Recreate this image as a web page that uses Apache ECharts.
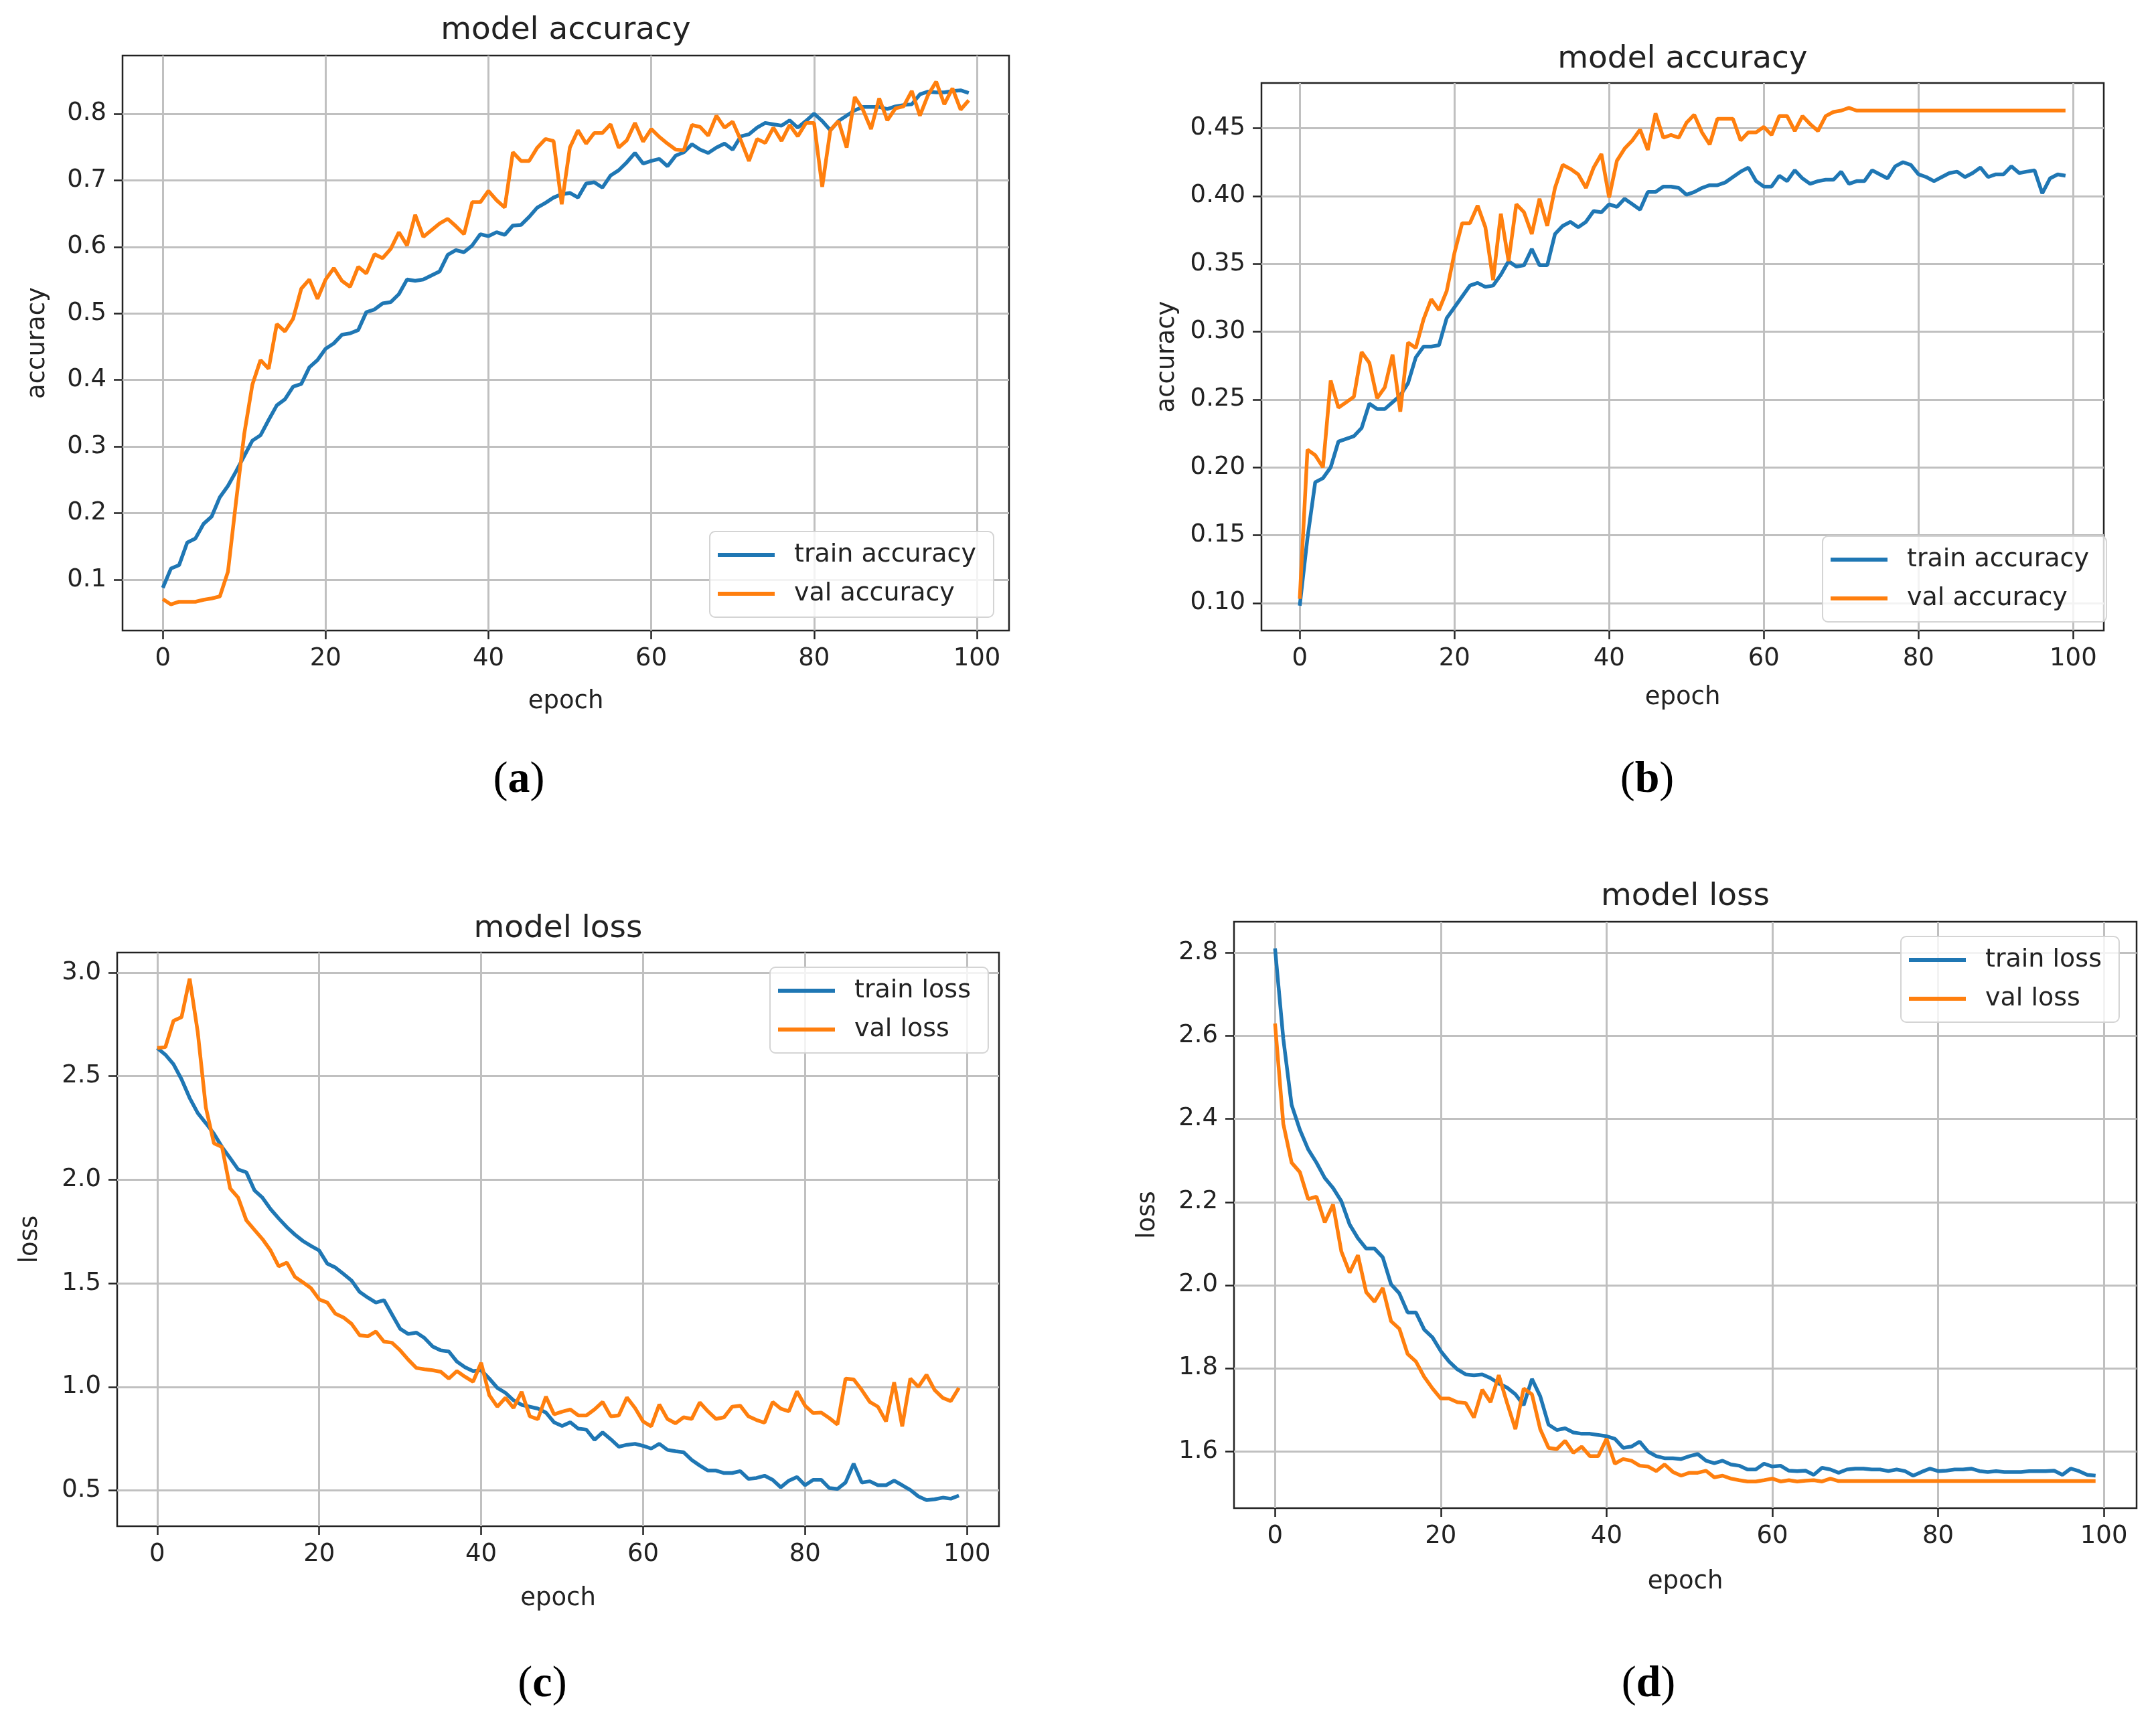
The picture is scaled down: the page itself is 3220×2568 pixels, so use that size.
<!DOCTYPE html>
<html>
<head>
<meta charset="utf-8">
<title>model accuracy / model loss</title>
<script src="https://cdn.jsdelivr.net/npm/echarts@6/dist/echarts.min.js"></script>
<style>
  html, body { margin: 0; padding: 0; background: #ffffff; }
  #chart { width: 3220px; height: 2568px; }
</style>
</head>
<body>
<div id="chart"></div>
<script>
// epochs 0..99 on the x axis
const epochs = Array.from({ length: 100 }, (_, i) => i);
const xTicks = [0, 20, 40, 60, 80, 100];

// (a) accuracy
const aTrain = [
  0.088, 0.117, 0.122, 0.156, 0.162, 0.184, 0.195, 0.224, 0.241, 0.263,
  0.286, 0.309, 0.317, 0.340, 0.362, 0.371, 0.390, 0.394, 0.419, 0.430,
  0.447, 0.455, 0.468, 0.470, 0.475, 0.502, 0.506, 0.515, 0.517, 0.529,
  0.551, 0.549, 0.551, 0.557, 0.563, 0.588, 0.595, 0.592, 0.602, 0.619,
  0.616, 0.622, 0.618, 0.632, 0.633, 0.645, 0.659, 0.666, 0.674, 0.679,
  0.681, 0.674, 0.695, 0.697, 0.689, 0.707, 0.715, 0.727, 0.741, 0.725,
  0.729, 0.732, 0.721, 0.737, 0.742, 0.754, 0.746, 0.741, 0.749, 0.755,
  0.746, 0.766, 0.769, 0.779, 0.786, 0.784, 0.782, 0.790, 0.779, 0.789,
  0.800, 0.789, 0.775, 0.789, 0.797, 0.805, 0.810, 0.810, 0.810, 0.807,
  0.811, 0.813, 0.814, 0.829, 0.833, 0.832, 0.832, 0.834, 0.835, 0.831
];
const aVal = [
  0.071, 0.063, 0.067, 0.067, 0.067, 0.070, 0.072, 0.075, 0.112, 0.218,
  0.319, 0.393, 0.430, 0.417, 0.484, 0.473, 0.492, 0.537, 0.551, 0.522,
  0.551, 0.568, 0.549, 0.540, 0.570, 0.560, 0.589, 0.583, 0.597, 0.622,
  0.602, 0.648, 0.615, 0.625, 0.635, 0.642, 0.631, 0.619, 0.667, 0.667,
  0.684, 0.670, 0.659, 0.742, 0.729, 0.729, 0.749, 0.762, 0.759, 0.664,
  0.749, 0.775, 0.755, 0.771, 0.771, 0.784, 0.749, 0.760, 0.786, 0.758,
  0.777, 0.765, 0.755, 0.746, 0.745, 0.783, 0.780, 0.767, 0.797, 0.779,
  0.788, 0.760, 0.729, 0.762, 0.756, 0.779, 0.759, 0.783, 0.766, 0.786,
  0.786, 0.690, 0.775, 0.789, 0.749, 0.825, 0.806, 0.777, 0.823, 0.790,
  0.808, 0.811, 0.834, 0.797, 0.828, 0.848, 0.814, 0.838, 0.806, 0.820
];
const aTicks = [0.1, 0.2, 0.3, 0.4, 0.5, 0.6, 0.7, 0.8];

// (b) accuracy
const bTrain = [
  0.098, 0.148, 0.189, 0.192, 0.200, 0.219, 0.221, 0.223, 0.229, 0.247,
  0.243, 0.243, 0.248, 0.253, 0.262, 0.281, 0.289, 0.289, 0.290, 0.310,
  0.318, 0.326, 0.334, 0.336, 0.333, 0.334, 0.342, 0.352, 0.348, 0.349,
  0.361, 0.349, 0.349, 0.372, 0.378, 0.381, 0.377, 0.381, 0.389, 0.388,
  0.394, 0.392, 0.398, 0.394, 0.390, 0.403, 0.403, 0.407, 0.407, 0.406,
  0.401, 0.403, 0.406, 0.408, 0.408, 0.410, 0.414, 0.418, 0.421, 0.411,
  0.407, 0.407, 0.415, 0.411, 0.419, 0.413, 0.409, 0.411, 0.412, 0.412,
  0.418, 0.409, 0.411, 0.411, 0.419, 0.416, 0.413, 0.422, 0.425, 0.423,
  0.416, 0.414, 0.411, 0.414, 0.417, 0.418, 0.414, 0.417, 0.421, 0.414,
  0.416, 0.416, 0.422, 0.417, 0.418, 0.419, 0.402, 0.413, 0.416, 0.415
];
const bVal = [
  0.103, 0.213, 0.209, 0.200, 0.264, 0.244, 0.248, 0.252, 0.285, 0.277,
  0.251, 0.259, 0.283, 0.241, 0.292, 0.288, 0.309, 0.324, 0.316, 0.330,
  0.358, 0.380, 0.380, 0.393, 0.377, 0.338, 0.387, 0.352, 0.394, 0.388,
  0.372, 0.398, 0.378, 0.406, 0.423, 0.420, 0.416, 0.406, 0.421, 0.431,
  0.399, 0.426, 0.435, 0.441, 0.449, 0.434, 0.461, 0.443, 0.445, 0.443,
  0.454, 0.460, 0.447, 0.438, 0.457, 0.457, 0.457, 0.441, 0.447, 0.447,
  0.451, 0.445, 0.459, 0.459, 0.448, 0.459, 0.453, 0.448, 0.459, 0.462,
  0.463, 0.465, 0.463, 0.463, 0.463, 0.463, 0.463, 0.463, 0.463, 0.463,
  0.463, 0.463, 0.463, 0.463, 0.463, 0.463, 0.463, 0.463, 0.463, 0.463,
  0.463, 0.463, 0.463, 0.463, 0.463, 0.463, 0.463, 0.463, 0.463, 0.463
];
const bTicks = [0.10, 0.15, 0.20, 0.25, 0.30, 0.35, 0.40, 0.45];

// (c) loss
const cTrain = [
  2.636, 2.604, 2.558, 2.485, 2.395, 2.322, 2.273, 2.222, 2.158, 2.104,
  2.049, 2.036, 1.949, 1.913, 1.858, 1.813, 1.771, 1.735, 1.704, 1.680,
  1.658, 1.595, 1.576, 1.545, 1.513, 1.458, 1.431, 1.407, 1.418, 1.349,
  1.280, 1.255, 1.262, 1.236, 1.195, 1.176, 1.171, 1.122, 1.095, 1.076,
  1.080, 1.040, 0.995, 0.971, 0.935, 0.913, 0.904, 0.895, 0.876, 0.829,
  0.811, 0.829, 0.798, 0.793, 0.744, 0.780, 0.747, 0.711, 0.720, 0.725,
  0.715, 0.702, 0.725, 0.696, 0.689, 0.684, 0.647, 0.620, 0.596, 0.596,
  0.584, 0.584, 0.593, 0.556, 0.560, 0.571, 0.551, 0.515, 0.547, 0.565,
  0.525, 0.551, 0.551, 0.511, 0.507, 0.538, 0.629, 0.538, 0.544, 0.525,
  0.525, 0.547, 0.525, 0.502, 0.471, 0.453, 0.457, 0.465, 0.460, 0.475
];
const cVal = [
  2.636, 2.640, 2.767, 2.785, 2.971, 2.713, 2.349, 2.176, 2.158, 1.958,
  1.913, 1.804, 1.758, 1.713, 1.658, 1.582, 1.600, 1.531, 1.504, 1.476,
  1.422, 1.407, 1.353, 1.335, 1.304, 1.249, 1.244, 1.267, 1.218, 1.213,
  1.176, 1.131, 1.091, 1.085, 1.080, 1.073, 1.040, 1.076, 1.049, 1.025,
  1.116, 0.960, 0.904, 0.947, 0.898, 0.976, 0.858, 0.844, 0.953, 0.867,
  0.880, 0.891, 0.862, 0.862, 0.891, 0.927, 0.858, 0.862, 0.949, 0.898,
  0.833, 0.809, 0.915, 0.845, 0.824, 0.853, 0.845, 0.925, 0.882, 0.845,
  0.853, 0.904, 0.909, 0.858, 0.840, 0.827, 0.927, 0.895, 0.882, 0.978,
  0.909, 0.873, 0.876, 0.849, 0.818, 1.040, 1.036, 0.985, 0.927, 0.904,
  0.833, 1.022, 0.809, 1.040, 1.000, 1.058, 0.985, 0.947, 0.931, 0.995
];
const cTicks = [0.5, 1.0, 1.5, 2.0, 2.5, 3.0];

// (d) loss
const dTrain = [
  2.811, 2.593, 2.434, 2.374, 2.327, 2.295, 2.258, 2.234, 2.202, 2.146,
  2.113, 2.088, 2.088, 2.067, 2.002, 1.980, 1.934, 1.934, 1.893, 1.874,
  1.841, 1.816, 1.797, 1.785, 1.783, 1.785, 1.776, 1.763, 1.753, 1.737,
  1.711, 1.774, 1.732, 1.664, 1.651, 1.655, 1.645, 1.642, 1.642, 1.639,
  1.636, 1.630, 1.608, 1.611, 1.623, 1.599, 1.588, 1.583, 1.583, 1.581,
  1.588, 1.593, 1.577, 1.571, 1.577, 1.568, 1.565, 1.556, 1.556, 1.570,
  1.563, 1.565, 1.553, 1.552, 1.553, 1.543, 1.560, 1.556, 1.548, 1.556,
  1.558, 1.558, 1.556, 1.556, 1.552, 1.556, 1.552, 1.541, 1.550, 1.558,
  1.552, 1.553, 1.556, 1.556, 1.558, 1.552, 1.550, 1.552, 1.550, 1.550,
  1.550, 1.552, 1.552, 1.552, 1.553, 1.543, 1.558, 1.552, 1.543, 1.541
];
const dVal = [
  2.630, 2.388, 2.295, 2.272, 2.207, 2.213, 2.151, 2.194, 2.081, 2.030,
  2.072, 1.983, 1.960, 1.993, 1.913, 1.895, 1.834, 1.816, 1.779, 1.751,
  1.727, 1.727, 1.718, 1.716, 1.681, 1.748, 1.718, 1.783, 1.716, 1.653,
  1.751, 1.737, 1.653, 1.608, 1.605, 1.625, 1.596, 1.611, 1.588, 1.588,
  1.630, 1.570, 1.581, 1.577, 1.565, 1.563, 1.552, 1.568, 1.550, 1.541,
  1.548, 1.548, 1.553, 1.537, 1.541, 1.534, 1.530, 1.527, 1.527, 1.530,
  1.534, 1.527, 1.530, 1.527, 1.529, 1.530, 1.527, 1.534, 1.528, 1.528,
  1.528, 1.528, 1.528, 1.528, 1.528, 1.528, 1.528, 1.528, 1.528, 1.528,
  1.528, 1.528, 1.528, 1.528, 1.528, 1.528, 1.528, 1.528, 1.528, 1.528,
  1.528, 1.528, 1.528, 1.528, 1.528, 1.528, 1.528, 1.528, 1.528, 1.528
];
const dTicks = [1.6, 1.8, 2.0, 2.2, 2.4, 2.6, 2.8];

const panels = [
  { tag: 'a', title: 'model accuracy', yName: 'accuracy', train: aTrain, val: aVal, ticks: aTicks, digits: 1,
    names: ['train accuracy', 'val accuracy'] },
  { tag: 'b', title: 'model accuracy', yName: 'accuracy', train: bTrain, val: bVal, ticks: bTicks, digits: 2,
    names: ['train accuracy', 'val accuracy'] },
  { tag: 'c', title: 'model loss', yName: 'loss', train: cTrain, val: cVal, ticks: cTicks, digits: 1,
    names: ['train loss', 'val loss'] },
  { tag: 'd', title: 'model loss', yName: 'loss', train: dTrain, val: dVal, ticks: dTicks, digits: 1,
    names: ['train loss', 'val loss'] }
];

// pixel layout of each panel: plot box [x0, y0, x1, y1], title y, gaps, legend corner, tag centre
const layout = [
  { box: [183, 83, 1507, 942], titleY: 46, yGap: 108, xGap: 88, legend: [1060, 794], tagAt: [775, 1166] },
  { box: [1884, 124, 3142, 942], titleY: 89, yGap: 122, xGap: 82, legend: [2722, 801], tagAt: [2460, 1166] },
  { box: [175, 1423, 1492, 2280], titleY: 1388, yGap: 111, xGap: 90, legend: [1150, 1445], tagAt: [810, 2517] },
  { box: [1843, 1377, 3191, 2253], titleY: 1340, yGap: 110, xGap: 92, legend: [2839, 1399], tagAt: [2462, 2517] }
];

const BLUE = '#1f77b4';
const ORANGE = '#ff7f0e';
const INK = '#222222';
const FONT = '"DejaVu Sans", sans-serif';

const grid = [], xAxis = [], yAxis = [], series = [], legend = [], graphic = [];

panels.forEach((p, i) => {
  const L = layout[i];
  const [x0, y0, x1, y1] = L.box;
  grid.push({
    left: x0, top: y0, width: x1 - x0, height: y1 - y0,
    show: true, borderColor: INK, borderWidth: 2.5, backgroundColor: 'transparent'
  });

  // matplotlib style 5% margins
  const all = p.train.concat(p.val);
  const lo = Math.min(...all), hi = Math.max(...all);
  const pad = (hi - lo) * 0.05;

  xAxis.push({
    type: 'value', gridIndex: i, min: -4.95, max: 103.95,
    name: 'epoch', nameLocation: 'middle', nameGap: L.xGap,
    nameTextStyle: { fontSize: 37, color: INK, fontFamily: FONT },
    axisLine: { show: false, onZero: false },
    axisTick: { show: true, length: 13, inside: false, customValues: xTicks,
      lineStyle: { color: INK, width: 2.5 } },
    axisLabel: { customValues: xTicks, margin: 24, fontSize: 37, color: INK, fontFamily: FONT },
    splitLine: { show: true, lineStyle: { color: '#c0c0c0', width: 3 } }
  });

  yAxis.push({
    type: 'value', gridIndex: i, min: lo - pad, max: hi + pad,
    name: p.yName, nameLocation: 'middle', nameGap: L.yGap,
    nameTextStyle: { fontSize: 37, color: INK, fontFamily: FONT },
    axisLine: { show: false, onZero: false },
    axisTick: { show: true, length: 13, inside: false, customValues: p.ticks,
      lineStyle: { color: INK, width: 2.5 } },
    axisLabel: { customValues: p.ticks, margin: 24, fontSize: 37, color: INK, fontFamily: FONT,
      formatter: v => v.toFixed(p.digits) },
    splitLine: { show: true, lineStyle: { color: '#c0c0c0', width: 3 } }
  });

  [[p.train, BLUE, p.names[0]], [p.val, ORANGE, p.names[1]]].forEach(([vals, color, name]) => {
    series.push({
      type: 'line', name: name, xAxisIndex: i, yAxisIndex: i,
      data: epochs.map((e, k) => [e, vals[k]]),
      showSymbol: false, symbol: 'none', color: color,
      lineStyle: { color: color, width: 5.5 },
      emphasis: { disabled: true }
    });
  });

  legend.push({
    data: p.names, orient: 'vertical', left: L.legend[0], top: L.legend[1],
    icon: 'rect', itemWidth: 85, itemHeight: 6, itemGap: 18,
    padding: [15, 26, 15, 12],
    backgroundColor: 'rgba(255,255,255,0.8)', borderColor: '#d4d4d4', borderWidth: 2, borderRadius: 8,
    textStyle: { fontSize: 38, color: INK, fontFamily: FONT, lineHeight: 40, padding: [0, 0, 0, 24] },
    selectedMode: false
  });

  graphic.push({
    type: 'text', x: (x0 + x1) / 2, y: L.titleY,
    style: { text: p.title, font: '47px "DejaVu Sans"', fill: INK,
      align: 'center', verticalAlign: 'middle', textAlign: 'center', textVerticalAlign: 'middle' }
  });
  graphic.push({
    type: 'text', x: L.tagAt[0], y: L.tagAt[1],
    style: {
      text: '{p|(}{b|' + p.tag + '}{p|)}',
      rich: {
        p: { fontSize: 66, fontFamily: '"Liberation Serif", serif', color: '#000' },
        b: { fontSize: 66, fontFamily: '"Liberation Serif", serif', fontWeight: 'bold', color: '#000' }
      },
      align: 'center', verticalAlign: 'middle', textAlign: 'center', textVerticalAlign: 'middle'
    }
  });
});

const chart = echarts.init(document.getElementById('chart'), null, { renderer: 'canvas' });
chart.setOption({
  backgroundColor: '#ffffff',
  animation: false,
  grid: grid,
  xAxis: xAxis,
  yAxis: yAxis,
  legend: legend,
  series: series,
  graphic: graphic
});
</script>
</body>
</html>
